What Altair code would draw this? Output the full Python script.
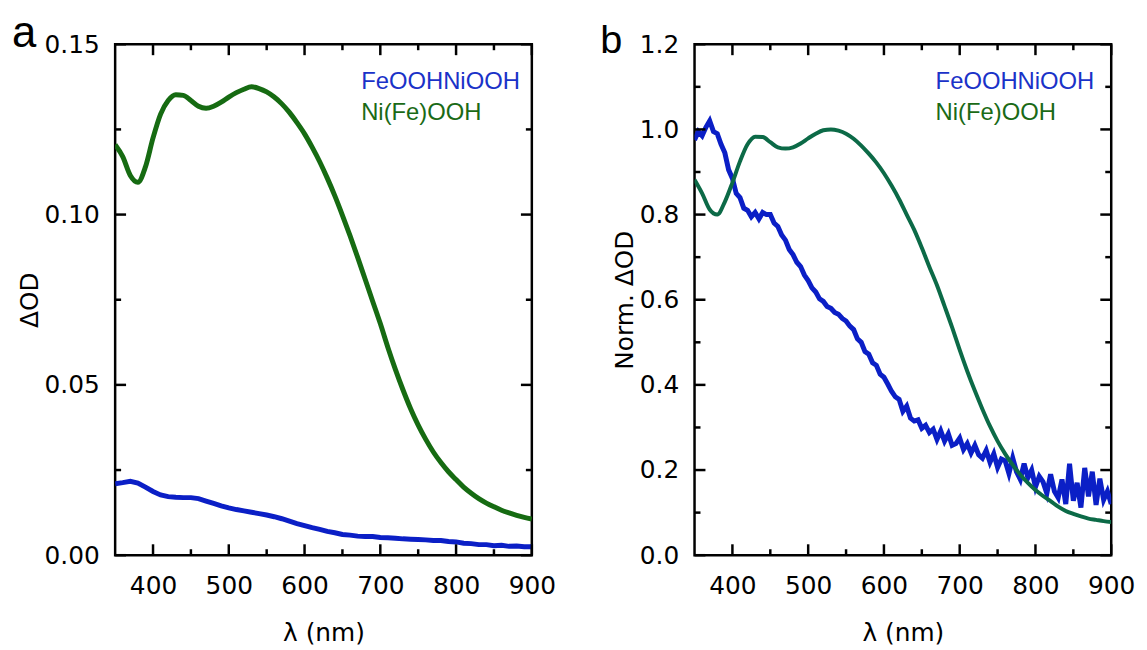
import altair as alt
import pandas as pd

# ---------------- data ----------------
wl10 = list(range(350, 901, 10))
wl5 = list(range(350, 901, 5))

# panel a, Ni(Fe)OOH (green)
a_green = [0.1205, 0.1170, 0.1115, 0.1095, 0.1140, 0.1225, 0.1295, 0.1335, 0.1352, 0.1350,
           0.1335, 0.1318, 0.1312, 0.1318, 0.1330, 0.1345, 0.1358, 0.1368, 0.1375, 0.1370,
           0.1360, 0.1345, 0.1325, 0.1300, 0.1270, 0.1237, 0.1198, 0.1155, 0.1107, 0.1055,
           0.0998, 0.0938, 0.0875, 0.0810, 0.0745, 0.0680, 0.0610, 0.0545, 0.0485, 0.0430,
           0.0382, 0.0340, 0.0303, 0.0272, 0.0245, 0.0222, 0.0200, 0.0182, 0.0166, 0.0153,
           0.0142, 0.0132, 0.0124, 0.0117, 0.0111, 0.0106]
# panel a, FeOOHNiOOH (blue)
a_blue = [0.0210, 0.0213, 0.0217, 0.0212, 0.0200, 0.0187, 0.0177, 0.0172, 0.0170, 0.0169,
          0.0169, 0.0166, 0.0159, 0.0152, 0.0145, 0.0139, 0.0134, 0.0130, 0.0126, 0.0122,
          0.0118, 0.0113, 0.0107, 0.0100, 0.0093, 0.0087, 0.0081, 0.0076, 0.0070, 0.0066,
          0.0061, 0.0059, 0.0056, 0.0055, 0.0055, 0.0052, 0.0051, 0.0050, 0.0048, 0.0047,
          0.0046, 0.0045, 0.0043, 0.0043, 0.0040, 0.0039, 0.0035, 0.0034, 0.0031, 0.0031,
          0.0028, 0.0029, 0.0026, 0.0027, 0.0025, 0.0025]

# panel b, Ni(Fe)OOH normalised (teal green)
b_green = [0.882, 0.850, 0.812, 0.800, 0.830, 0.875, 0.925, 0.965, 0.983, 0.982,
           0.970, 0.958, 0.955, 0.958, 0.967, 0.979, 0.990, 0.998, 1.000, 0.997,
           0.990, 0.978, 0.962, 0.943, 0.922, 0.897, 0.868, 0.836, 0.800, 0.764,
           0.722, 0.677, 0.634, 0.585, 0.535, 0.482, 0.432, 0.386, 0.343, 0.303,
           0.268, 0.238, 0.212, 0.189, 0.170, 0.153, 0.139, 0.127, 0.114, 0.104,
           0.097, 0.091, 0.086, 0.083, 0.080, 0.078]
# panel b, FeOOHNiOOH normalised (blue, noisy), 5 nm steps
b_blue = [0.975, 0.995, 0.985, 1.005, 1.020, 0.995, 0.990, 0.965, 0.945, 0.905,
          0.885, 0.850, 0.840, 0.815, 0.810, 0.795, 0.805, 0.790, 0.805, 0.800,
          0.800, 0.780, 0.772, 0.752, 0.740, 0.718, 0.706, 0.688, 0.678, 0.658,
          0.645, 0.628, 0.618, 0.602, 0.596, 0.584, 0.580, 0.570, 0.566, 0.556,
          0.550, 0.538, 0.530, 0.508, 0.500, 0.478, 0.472, 0.452, 0.446, 0.425,
          0.418, 0.402, 0.385, 0.372, 0.366, 0.338, 0.350, 0.322, 0.315, 0.318,
          0.298, 0.305, 0.288, 0.296, 0.272, 0.292, 0.268, 0.285, 0.258, 0.262,
          0.275, 0.248, 0.262, 0.240, 0.258, 0.236, 0.228, 0.246, 0.218, 0.238,
          0.206, 0.226, 0.222, 0.192, 0.228, 0.196, 0.178, 0.215, 0.182, 0.200,
          0.160, 0.185, 0.172, 0.145, 0.190, 0.150, 0.135, 0.178, 0.120, 0.215,
          0.128, 0.170, 0.112, 0.205, 0.138, 0.196, 0.118, 0.180, 0.130, 0.150,
          0.120]

series_names = ["FeOOHNiOOH", "Ni(Fe)OOH"]

x_major = [400, 500, 600, 700, 800, 900]
x_minor = [450, 550, 650, 750, 850]
ya_major = [0.0, 0.05, 0.10, 0.15]
ya_minor = [0.025, 0.075, 0.125]
yb_major = [0.0, 0.2, 0.4, 0.6, 0.8, 1.0, 1.2]
yb_minor = [0.1, 0.3, 0.5, 0.7, 0.9, 1.1]

# ---------------- styling ----------------
W, H = 420, 515
BLUE = "#0b1fc6"
GREEN_A = "#166b12"
TEAL_B = "#0c6a47"
LEG_BLUE = "#1a32c8"
LEG_GREEN = "#1a6a16"
FONT = "DejaVu Sans"
LFONT = "Liberation Sans"
MAJ, MIN = 11, 6
TW = 2.5


def panel(lines, ydom, ymajor, yminor, yfmt, ytitle, letter, letter_x, letter_y,
          letter_size, legend_x):
    xscale = alt.Scale(domain=[350, 900], nice=False, zero=False)
    yscale = alt.Scale(domain=ydom, nice=False, zero=False)
    xaxis = alt.Axis(values=x_major, format="d", title="λ (nm)", labelPadding=19,
                     titlePadding=22)
    yaxis = alt.Axis(values=ymajor, format=yfmt, title=ytitle, labelPadding=16,
                     titlePadding=2)
    layers = []
    for wl, vals, color, sw, interp in lines:
        df = pd.DataFrame({"wl": wl, "v": vals})
        layers.append(
            alt.Chart(df).mark_line(color=color, strokeWidth=sw, interpolate=interp,
                                    clip=True)
            .encode(x=alt.X("wl:Q", scale=xscale, axis=xaxis),
                    y=alt.Y("v:Q", scale=yscale, axis=yaxis))
        )
    # inward ticks on all four sides
    for vals, ln in [(x_major, MAJ), (x_minor, MIN)]:
        tdf = pd.DataFrame({"wl": vals})
        base = alt.Chart(tdf).mark_rule(color="black", strokeWidth=TW)
        layers.append(base.encode(x=alt.X("wl:Q", scale=xscale, axis=xaxis),
                                  y=alt.value(H), y2=alt.value(H - ln)))
        layers.append(base.encode(x=alt.X("wl:Q", scale=xscale, axis=xaxis),
                                  y=alt.value(0), y2=alt.value(ln)))
    for vals, ln in [(ymajor, MAJ), (yminor, MIN)]:
        tdf = pd.DataFrame({"v": vals})
        base = alt.Chart(tdf).mark_rule(color="black", strokeWidth=TW)
        layers.append(base.encode(y=alt.Y("v:Q", scale=yscale, axis=yaxis),
                                  x=alt.value(0), x2=alt.value(ln)))
        layers.append(base.encode(y=alt.Y("v:Q", scale=yscale, axis=yaxis),
                                  x=alt.value(W - ln), x2=alt.value(W)))
    # legend texts
    for name, color, yy in [(series_names[0], LEG_BLUE, 45), (series_names[1], LEG_GREEN, 76)]:
        layers.append(
            alt.Chart(pd.DataFrame({"t": [name]})).mark_text(
                align="left", baseline="alphabetic", font=LFONT, fontSize=24, color=color)
            .encode(text="t:N", x=alt.value(legend_x), y=alt.value(yy))
        )
    # panel letter
    layers.append(
        alt.Chart(pd.DataFrame({"t": [letter]})).mark_text(
            align="left", baseline="alphabetic", font=LFONT, fontSize=letter_size,
            color="black")
        .encode(text="t:N", x=alt.value(letter_x), y=alt.value(letter_y))
    )
    return alt.layer(*layers).properties(width=W, height=H)


pa = panel(
    [(wl10, a_blue, BLUE, 5, "linear"), (wl10, a_green, GREEN_A, 5, "monotone")],
    [0, 0.15], ya_major, ya_minor, ".2f", "ΔOD", "a", -104, 3, 44, 248)
pb = panel(
    [(wl5, b_blue, BLUE, 5, "linear"), (wl10, b_green, TEAL_B, 4, "monotone")],
    [0, 1.2], yb_major, yb_minor, ".1f", "Norm. ΔOD", "b", -95, 9, 40, 243)

chart = (
    alt.hconcat(pa, pb, spacing=164, bounds="flush")
    .properties(padding={"left": 2, "top": 0, "right": 2, "bottom": 0})
    .configure_view(stroke="black", strokeWidth=2.5)
    .configure_axis(
        labelFont=FONT, labelFontSize=25, labelColor="black",
        titleFont=FONT, titleFontSize=25, titleFontWeight="normal", titleColor="black",
        ticks=False, tickSize=0, domain=False, grid=False,
        labelFlush=False, labelOverlap=False,
    )
)

chart.save("out.html", embed_options={"renderer": "svg", "actions": False})
